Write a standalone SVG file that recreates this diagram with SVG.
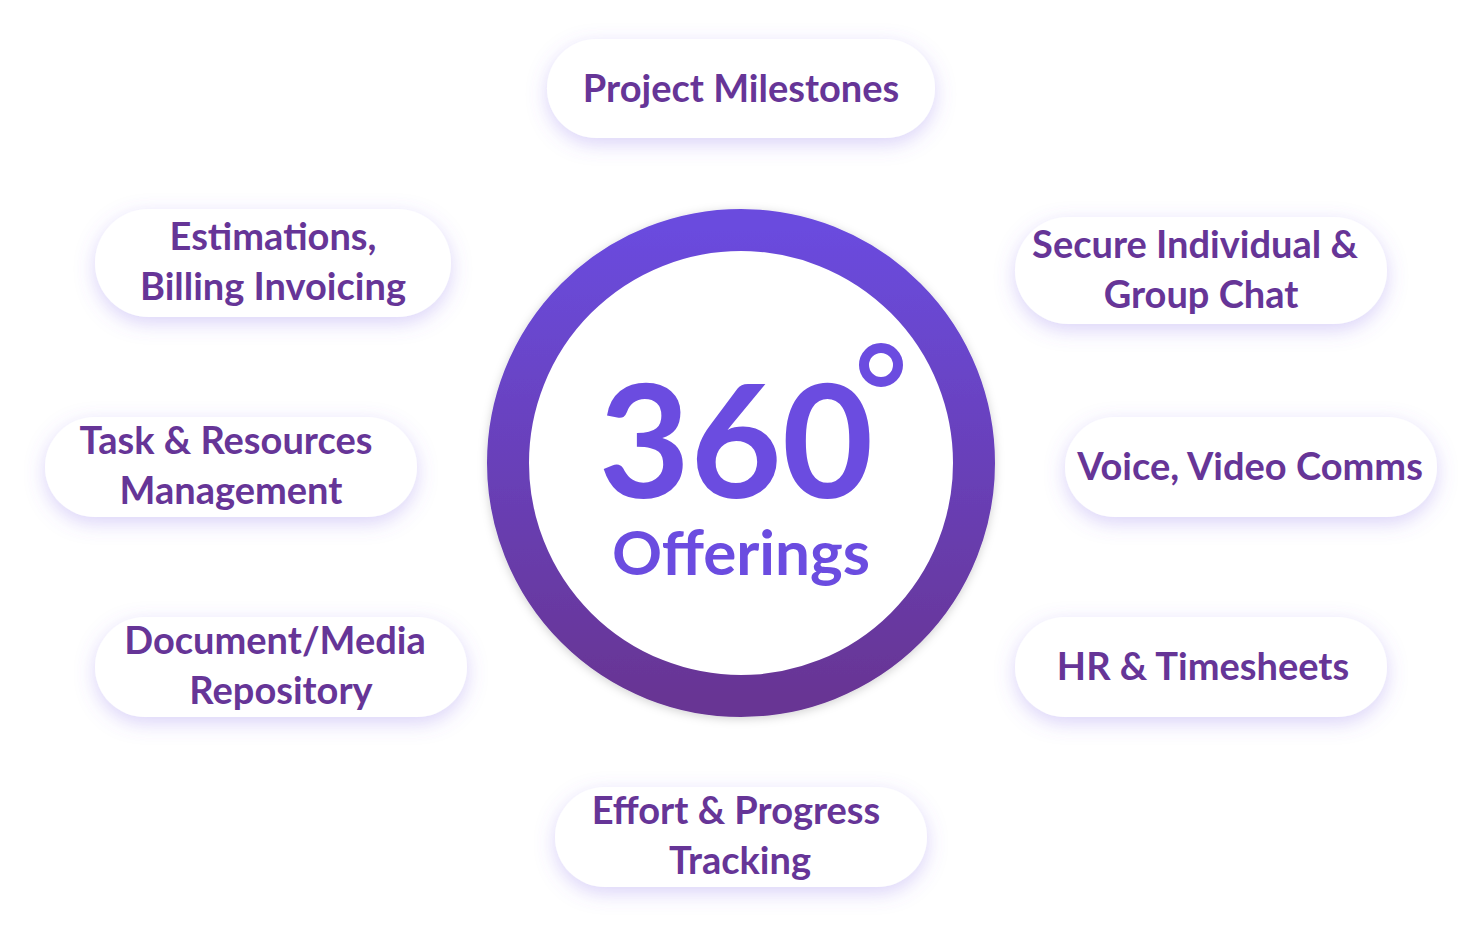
<svg xmlns="http://www.w3.org/2000/svg" width="1482" height="938" viewBox="0 0 1482 938">
  <defs>
    <linearGradient id="ringGrad" x1="0" y1="0" x2="0" y2="1">
      <stop offset="0" stop-color="#6a4bde"/>
      <stop offset="1" stop-color="#673594"/>
    </linearGradient>
    <filter id="pillShadow" x="-20%" y="-40%" width="140%" height="190%">
      <feDropShadow dx="0" dy="6" stdDeviation="10" flood-color="#7a5ce8" flood-opacity="0.28"/>
    </filter>
    <filter id="ringShadow" x="-10%" y="-10%" width="120%" height="120%">
      <feDropShadow dx="0" dy="2" stdDeviation="5" flood-color="#000000" flood-opacity="0.18"/>
    </filter>
    <style>
      .pill { fill: #ffffff; filter: url(#pillShadow); }
      .lbl { font-family: Lato, "Liberation Sans", sans-serif; font-weight: 700; font-size: 38px; fill: #663597; text-anchor: middle; }
      .big { font-family: Lato, "Liberation Sans", sans-serif; font-weight: 700; fill: #6b4ce0; text-anchor: middle; }
    </style>
  </defs>
  <rect width="1482" height="938" fill="#ffffff"/>

  <g id="connectors"></g>

  <g id="center">
    <circle cx="741" cy="463" r="233" fill="#ffffff" stroke="url(#ringGrad)" stroke-width="42" filter="url(#ringShadow)"/>
    <text class="big" x="736" y="498" font-size="158">360</text>
    <circle cx="881" cy="365" r="17" fill="none" stroke="#6b4ce0" stroke-width="10"/>
    <text class="big" x="741" y="575" font-size="62">Offerings</text>
  </g>

  <g id="node-project-milestones">
    <rect class="pill" x="547" y="39" width="388" height="99" rx="49.5"/>
    <text class="lbl" x="741" y="102">Project Milestones</text>
  </g>

  <g id="node-estimations">
    <rect class="pill" x="95" y="209" width="356" height="108" rx="54"/>
    <text class="lbl" x="273" y="250">Estimations,</text>
    <text class="lbl" x="273" y="300">Billing Invoicing</text>
  </g>

  <g id="node-secure-chat">
    <rect class="pill" x="1015" y="217" width="372" height="107" rx="53.5"/>
    <text class="lbl" x="1195" y="258">Secure Individual &amp;</text>
    <text class="lbl" x="1201" y="308">Group Chat</text>
  </g>

  <g id="node-task-resources">
    <rect class="pill" x="45" y="417" width="372" height="100" rx="50"/>
    <text class="lbl" x="226" y="454">Task &amp; Resources</text>
    <text class="lbl" x="231" y="504">Management</text>
  </g>

  <g id="node-voice-video">
    <rect class="pill" x="1065" y="417" width="372" height="100" rx="50"/>
    <text class="lbl" x="1250" y="480">Voice, Video Comms</text>
  </g>

  <g id="node-document-media">
    <rect class="pill" x="95" y="617" width="372" height="100" rx="50"/>
    <text class="lbl" x="275" y="654">Document/Media</text>
    <text class="lbl" x="281" y="704">Repository</text>
  </g>

  <g id="node-hr-timesheets">
    <rect class="pill" x="1015" y="617" width="372" height="100" rx="50"/>
    <text class="lbl" x="1203" y="680">HR &amp; Timesheets</text>
  </g>

  <g id="node-effort-progress">
    <rect class="pill" x="555" y="787" width="372" height="100" rx="50"/>
    <text class="lbl" x="736" y="824">Effort &amp; Progress</text>
    <text class="lbl" x="740" y="874">Tracking</text>
  </g>
</svg>
